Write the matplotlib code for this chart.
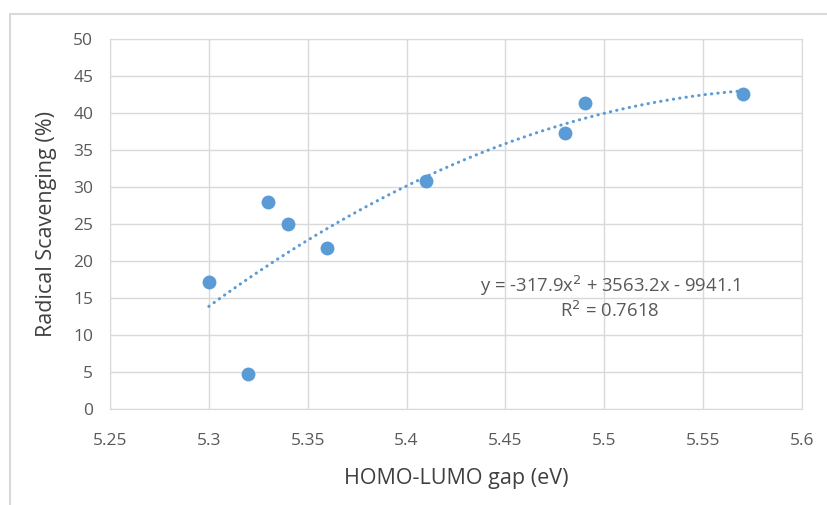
import numpy as np
import matplotlib
matplotlib.use('Agg')
import matplotlib.pyplot as plt
from matplotlib.patches import Rectangle

# HOMO-LUMO gap (eV) vs radical scavenging (%)
gap_ev = [5.30, 5.32, 5.33, 5.34, 5.36, 5.41, 5.48, 5.49, 5.57]
scavenging = [17.2, 4.7, 28.0, 25.0, 21.7, 30.8, 37.3, 41.4, 42.6]

x_ticks = [5.25, 5.3, 5.35, 5.4, 5.45, 5.5, 5.55, 5.6]
x_tick_labels = ['5.25', '5.3', '5.35', '5.4', '5.45', '5.5', '5.55', '5.6']
y_ticks = [0, 5, 10, 15, 20, 25, 30, 35, 40, 45, 50]

blue = '#5B9BD5'
grid_col = '#d9d9d9'
text_col = '#595959'
plt.rcParams['font.family'] = ['Open Sans', 'DejaVu Sans']

fig = plt.figure(figsize=(8.28, 5.05), dpi=100)
# outer chart frame, runs off the right and bottom of the image
fig.patches.append(Rectangle((10 / 828, -0.1), 1.0, 1.1 - 14 / 505, transform=fig.transFigure,
                             fill=False, edgecolor=grid_col, linewidth=1.5))
ax = fig.add_axes([110 / 828, 96 / 505, 692 / 828, 370 / 505])

ax.scatter(gap_ev, scavenging, s=100, color=blue, zorder=3, linewidths=0)

# polynomial trendline (order 2), like the spreadsheet one
coef = np.polyfit(gap_ev, scavenging, 2)
xs = np.linspace(min(gap_ev), max(gap_ev), 200)
ax.plot(xs, np.polyval(coef, xs), color=blue, linewidth=2.2,
        dashes=(0.1, 2.0), dash_capstyle='round', zorder=2)

ax.text(5.5027, 16.6, 'y = -317.9x$^2$ + 3563.2x - 9941.1', ha='center', va='center',
        fontsize=13.3, color=text_col)
ax.text(5.5027, 13.2, 'R$^2$ = 0.7618', ha='center', va='center', fontsize=13.3, color=text_col)

ax.set_xlim(5.25, 5.6)
ax.set_ylim(0, 50)
ax.set_xticks(x_ticks)
ax.set_xticklabels(x_tick_labels)
ax.set_yticks(y_ticks)
ax.grid(True, color=grid_col, linewidth=1)
ax.set_axisbelow(True)
for s in ax.spines.values():
    s.set_color(grid_col)
ax.tick_params(length=0, labelsize=12.5, colors=text_col)
ax.tick_params(axis='x', pad=17)
ax.tick_params(axis='y', pad=12)

ax.set_xlabel('HOMO-LUMO gap (eV)', fontsize=15.5, color='#404040', labelpad=14)
ax.set_ylabel('Radical Scavenging (%)', fontsize=15.5, color='#404040', labelpad=12)

fig.savefig('out.png', dpi=100)
